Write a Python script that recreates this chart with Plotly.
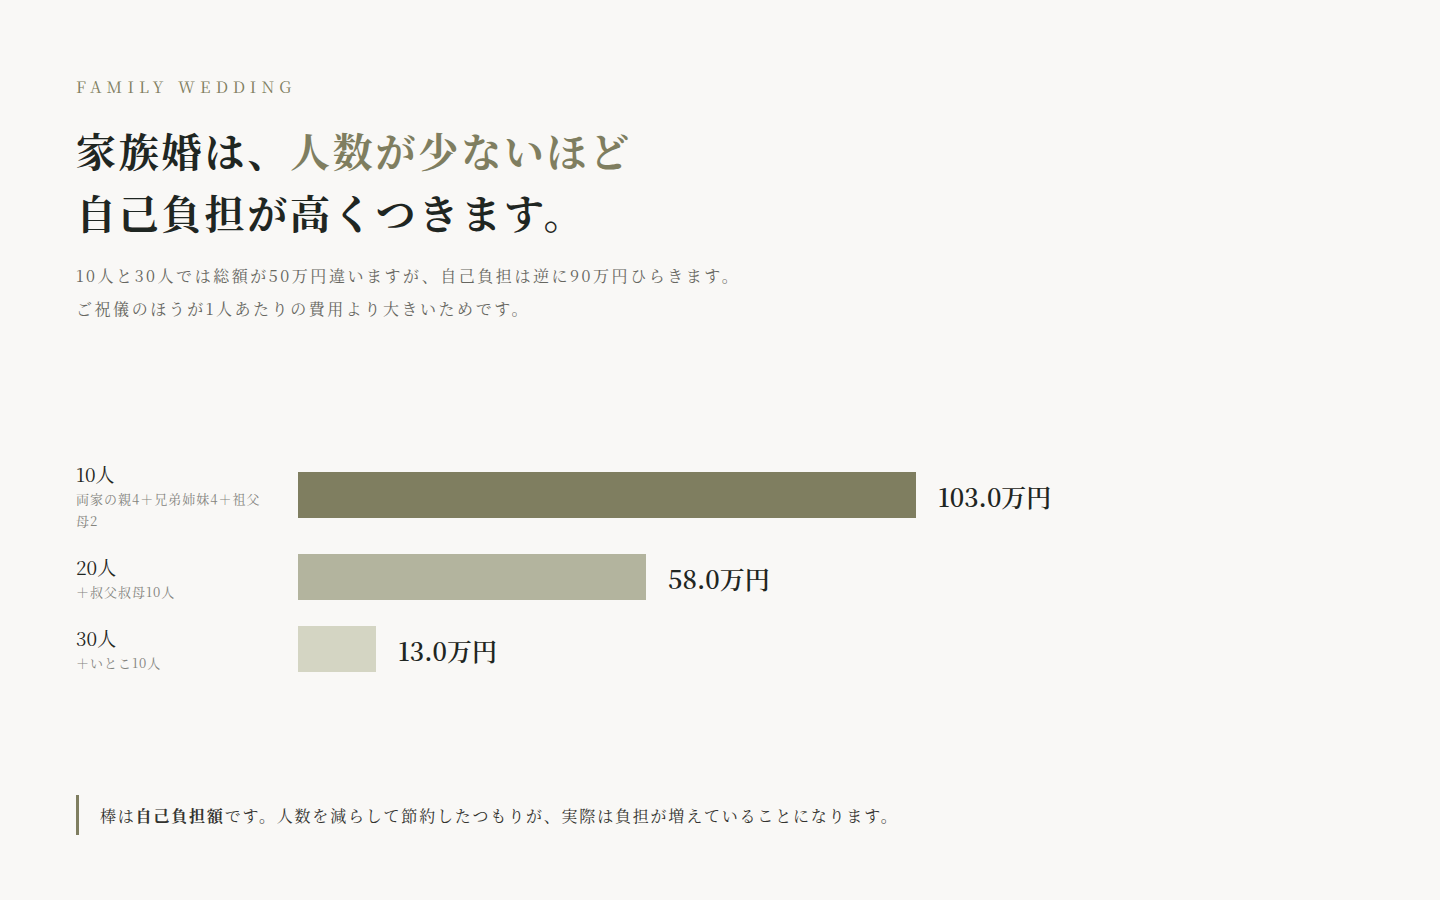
import plotly.graph_objects as go

# data
groups = ["10人", "20人", "30人"]
group_notes = [["両家の親4＋兄弟姉妹4＋祖父", "母2"], ["＋叔父叔母10人"], ["＋いとこ10人"]]
self_pay = [103.0, 58.0, 13.0]          # 自己負担額 (万円)
bar_colors = ["#7f7e60", "#b3b49e", "#d4d5c3"]

eyebrow = "FAMILY WEDDING"
head_1a = "家族婚は、"
head_1b = "人数が少ないほど"
head_2 = "自己負担が高くつきます。"
lead = ["10人と30人では総額が50万円違いますが、自己負担は逆に90万円ひらきます。",
        "ご祝儀のほうが1人あたりの費用より大きいためです。"]
note_pre = "棒は"
note_bold = "自己負担額"
note_post = "です。人数を減らして節約したつもりが、実際は負担が増えていることになります。"

# layout helpers (canvas is 1440x900, paper == canvas)
W, H = 1440, 900
BG = "#f9f8f6"
INK = "#1f2622"
ACCENT = "#7f7e60"
SERIF = "Noto Serif CJK JP, Liberation Serif, Noto Sans CJK JP, serif"


def px(x):
    return x / W


def py(y):
    return 1 - y / H


row_y = [495, 577, 649]   # pixel centres of the rows
plot_left, plot_right = 298, 1198
plot_top, plot_bottom = 400, 720

fig = go.Figure()
fig.add_trace(go.Bar(
    x=self_pay, y=row_y, orientation="h", width=46,
    marker=dict(color=bar_colors, line=dict(width=0)),
    hoverinfo="skip",
))

ann = []


def txt(x, y, text, size, color, weight=400, spacing=0):
    if spacing:
        text = f'<span style="letter-spacing:{spacing}px">{text}</span>'
    ann.append(dict(
        x=px(x - 2), y=py(y), xref="paper", yref="paper", text=text,
        showarrow=False, xanchor="left", yanchor="middle", align="left",
        font=dict(size=size, color=color, family=SERIF, weight=weight),
    ))


txt(76, 86, eyebrow, 16, ACCENT, spacing=5.2)
txt(76, 150, head_1a + f'<span style="color:{ACCENT}">{head_1b}</span>', 40, INK, 700, spacing=2.8)
txt(76, 212, head_2, 40, INK, 700, spacing=2.8)
txt(76, 275, lead[0], 16, "#666660", spacing=2.55)
txt(76, 308, lead[1], 16, "#666660", spacing=2.55)

label_y = [474, 566, 637]
for g, notes, ly in zip(groups, group_notes, label_y):
    txt(76, ly, g, 19, INK)
    for j, n in enumerate(notes):
        txt(76, ly + 25 + j * 21, n, 13, "#84847e", spacing=1)

# value labels; positive yshift moves up
for v, ry in zip(self_pay, row_y):
    ann.append(dict(
        x=v, y=ry, xref="x", yref="y", text=f"{v:.1f}万円",
        showarrow=False, xanchor="left", yanchor="middle", xshift=20, yshift=-1,
        font=dict(size=25, color=INK, family=SERIF, weight=600),
    ))

txt(100, 815, note_pre + f"<b>{note_bold}</b>" + note_post, 16, "#33332f", spacing=1.8)

fig.add_shape(type="rect", xref="paper", yref="paper",
              x0=px(76), x1=px(79), y0=py(835), y1=py(795),
              fillcolor=ACCENT, line=dict(width=0))

fig.update_layout(
    width=W, height=H, margin=dict(l=0, r=0, t=0, b=0),
    paper_bgcolor=BG, plot_bgcolor=BG, showlegend=False,
    annotations=ann,
    xaxis=dict(domain=[px(plot_left), px(plot_right)], range=[0, 150],
               visible=False, fixedrange=True),
    yaxis=dict(domain=[py(plot_bottom), py(plot_top)], range=[plot_bottom, plot_top],
               visible=False, fixedrange=True),
)

fig.write_html("out.html", config={"displayModeBar": False},
               post_script="document.body.style.margin='0';"
                           "document.body.style.overflow='hidden';"
                           f"document.body.style.background='{BG}';")
